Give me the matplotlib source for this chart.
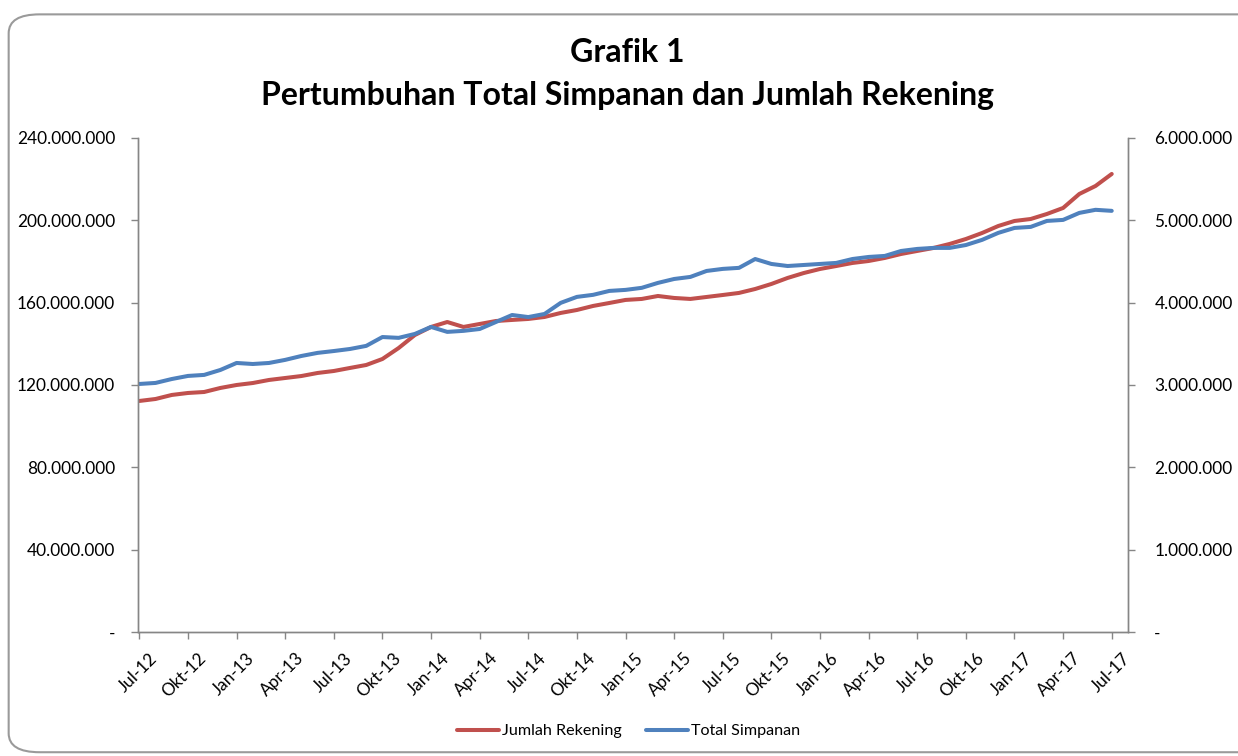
import matplotlib.pyplot as plt
from matplotlib.patches import FancyBboxPatch
from matplotlib.ticker import FuncFormatter, MultipleLocator
from matplotlib.transforms import ScaledTranslation

plt.rcParams['font.family'] = ['Lato', 'DejaVu Sans']

# monthly data, Jul-12 .. Jul-17
total_simpanan = [120.5, 121.0, 122.9, 124.4, 124.9, 127.3, 130.7, 130.2, 130.7, 132.2,
                  134.1, 135.6, 136.5, 137.5, 139.0, 143.3, 142.9, 144.8, 148.2, 145.8,
                  146.3, 147.2, 150.6, 154.0, 153.0, 154.5, 159.9, 162.8, 163.8, 165.7,
                  166.2, 167.2, 169.6, 171.5, 172.5, 175.4, 176.4, 176.9, 181.2, 178.8,
                  177.8, 178.3, 178.8, 179.3, 181.2, 182.2, 182.7, 185.1, 186.1, 186.6,
                  186.6, 188.0, 190.5, 193.9, 196.3, 196.8, 199.7, 200.2, 203.6, 205.1,
                  204.6]  # juta
jumlah_rekening = [2.806, 2.830, 2.879, 2.903, 2.915, 2.964, 3.000, 3.024, 3.061, 3.085,
                   3.109, 3.146, 3.170, 3.207, 3.243, 3.316, 3.449, 3.607, 3.705, 3.765,
                   3.705, 3.741, 3.777, 3.790, 3.802, 3.826, 3.875, 3.911, 3.960, 3.996,
                   4.033, 4.045, 4.081, 4.057, 4.045, 4.069, 4.093, 4.118, 4.166, 4.227,
                   4.300, 4.360, 4.409, 4.445, 4.482, 4.506, 4.543, 4.591, 4.628, 4.664,
                   4.713, 4.773, 4.846, 4.931, 4.992, 5.016, 5.077, 5.150, 5.320, 5.417,
                   5.563]  # juta
tick_labels = ['Jul-12', 'Okt-12', 'Jan-13', 'Apr-13', 'Jul-13', 'Okt-13', 'Jan-14',
               'Apr-14', 'Jul-14', 'Okt-14', 'Jan-15', 'Apr-15', 'Jul-15', 'Okt-15',
               'Jan-16', 'Apr-16', 'Jul-16', 'Okt-16', 'Jan-17', 'Apr-17', 'Jul-17']

months = list(range(len(total_simpanan)))
simpanan = [v * 1e6 for v in total_simpanan]
rekening = [v * 1e6 for v in jumlah_rekening]

red = '#C0504D'
blue = '#4F81BD'
grey = '#868686'


def fmt(v, pos):
    if v == 0:
        return '-'
    return f'{int(round(v)):,}'.replace(',', '.')


fig = plt.figure(figsize=(12.38, 7.56), dpi=100)
fig.patches.append(FancyBboxPatch((0.007, 0.005), 1.05, 0.976, boxstyle='round,pad=0,rounding_size=0.025',
                                  transform=fig.transFigure, fill=False, edgecolor='#9a9a9a',
                                  linewidth=1.5, zorder=0))

ax = fig.add_axes([0.1115, 0.164, 0.7996, 0.6535])
ax2 = ax.twinx()

l2, = ax2.plot(months, rekening, color=red, lw=2.9, label='Jumlah Rekening',
               solid_capstyle='round', solid_joinstyle='round')
l1, = ax.plot(months, simpanan, color=blue, lw=2.9, label='Total Simpanan',
              solid_capstyle='round', solid_joinstyle='round')
ax.set_zorder(ax2.get_zorder() + 1)
ax.patch.set_visible(False)

ax.set_xlim(-0.08, 61)
ax.set_ylim(0, 240e6)
ax2.set_ylim(0, 6e6)
ax.yaxis.set_major_locator(MultipleLocator(40e6))
ax2.yaxis.set_major_locator(MultipleLocator(1e6))
ax.yaxis.set_major_formatter(FuncFormatter(fmt))
ax2.yaxis.set_major_formatter(FuncFormatter(fmt))

# x tick labels drawn as text so they can sit where Excel puts them
tick_pos = list(range(0, 61, 3))
ax.set_xticks(tick_pos)
ax.set_xticklabels([])
lab_tr = ax.get_xaxis_transform() + ScaledTranslation(0.10, -0.18, fig.dpi_scale_trans)
for p, lab in zip(tick_pos, tick_labels):
    ax.text(p, 0, lab, transform=lab_tr, rotation=45, ha='right', va='top',
            rotation_mode='anchor', fontsize=12.3, clip_on=False)

for a in (ax, ax2):
    a.spines['top'].set_visible(False)
    for s in ('left', 'right', 'bottom'):
        a.spines[s].set_color(grey)
        a.spines[s].set_linewidth(1.0)
    a.tick_params(axis='both', colors=grey, labelcolor='black', labelsize=12.4, length=5, width=1)
ax.tick_params(axis='y', pad=11.5)
ax2.tick_params(axis='y', pad=14)

fig.text(0.507, 0.930, 'Grafik 1', ha='center', va='center', fontsize=23, fontweight='bold')
fig.text(0.507, 0.874, 'Pertumbuhan Total Simpanan dan Jumlah Rekening', ha='center', va='center',
         fontsize=23, fontweight='bold')

fig.legend(handles=[l2, l1], loc='center', bbox_to_anchor=(0.508, 0.033), ncol=2, frameon=False,
           fontsize=11.6, handlelength=2.6, handletextpad=0.2, columnspacing=1.5)

fig.savefig('out.png', dpi=100)
